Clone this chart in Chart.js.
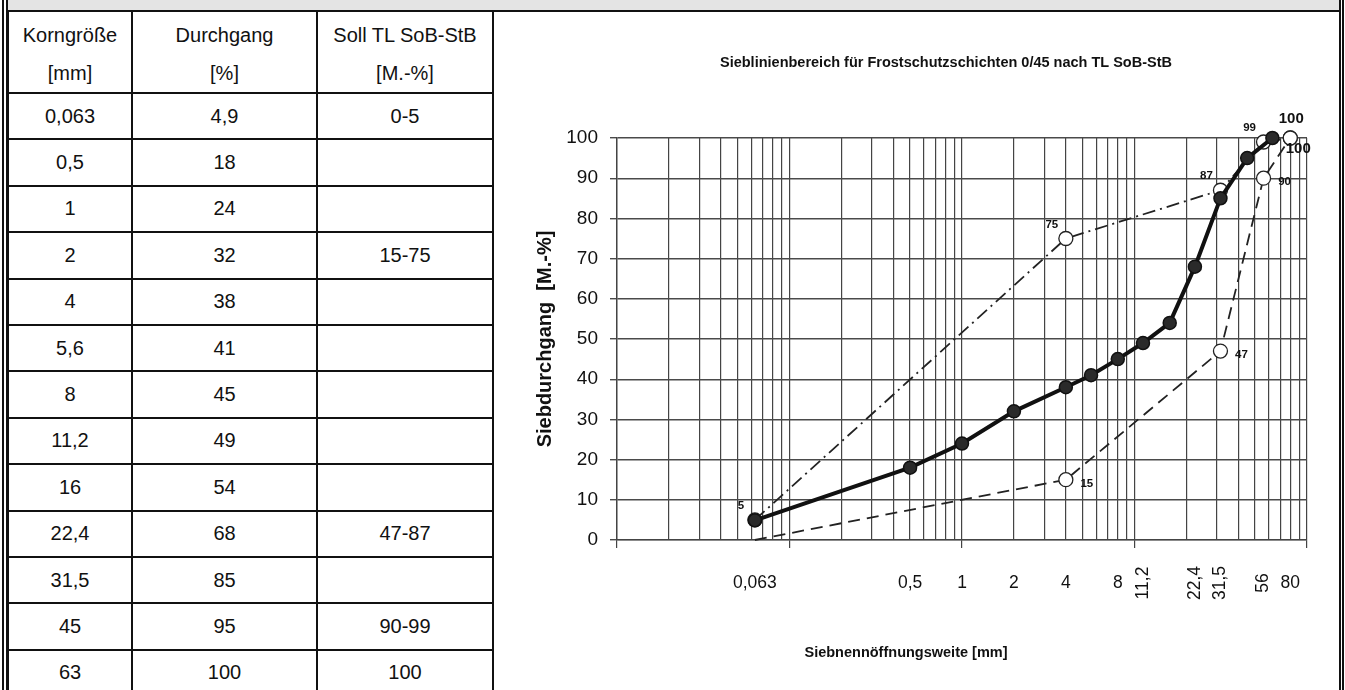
<!DOCTYPE html>
<html lang="de">
<head>
<meta charset="utf-8">
<title>Sieblinie Frostschutzschicht 0/45</title>
<script src="https://cdn.jsdelivr.net/npm/chart.js@4.4.1/dist/chart.umd.min.js"></script>
<style>
  html, body { margin: 0; padding: 0; background: #fff; }
  body { width: 1345px; height: 690px; position: relative; overflow: hidden; font-family: Arial, "Liberation Sans", sans-serif; }
  .topbar { position: absolute; left: 7px; top: 0; width: 1333px; height: 10px; background: #e4e4e4; border-bottom: 2px solid #111; }
  .vline { position: absolute; top: 0; height: 690px; width: 2px; background: #111; }
  table { position: absolute; left: 7px; top: 10px; width: 485px; border-collapse: collapse; table-layout: fixed; color: #111; font-size: 20px; }
  td { border: 2px solid #111; text-align: center; padding: 0; }
  tr.head td { height: 71px; vertical-align: top; padding-top: 4px; line-height: 38px; }
  tr.row td { height: 44.4px; vertical-align: middle; }
  #chart { position: absolute; left: 494px; top: 12px; }
</style>
</head>
<body>
<div class="topbar"></div>
<div class="vline" style="left:2px"></div>
<div class="vline" style="left:6px"></div>
<div class="vline" style="left:1339px"></div>
<div class="vline" style="left:1342px"></div>

<table id="tbl">
  <colgroup><col style="width:124px"><col style="width:185px"><col style="width:176px"></colgroup>
  <tbody id="tbody">
    <tr class="head"><td>Korngröße<br>[mm]</td><td>Durchgang<br>[%]</td><td>Soll TL SoB-StB<br>[M.-%]</td></tr>
  </tbody>
</table>

<canvas id="chart" width="844" height="678"></canvas>

<script>
// Sieblinie (Durchgang je Korngröße)
const sieveSizes = [0.063, 0.5, 1, 2, 4, 5.6, 8, 11.2, 16, 22.4, 31.5, 45, 63];
const passing = [4.9, 18, 24, 32, 38, 41, 45, 49, 54, 68, 85, 95, 100];
const specText = ['0-5', '', '', '15-75', '', '', '', '', '', '47-87', '', '90-99', '100'];

// Sieblinienbereich TL SoB-StB
const limitSizes = [0.063, 4, 31.5, 56, 80];
const upperLimit = [5, 75, 87, 99, 100];
const lowerLimit = [0, 15, 47, 90, 100];

// Beschriftung der x-Achse
const xTickValues = [0.063, 0.5, 1, 2, 4, 8, 11.2, 22.4, 31.5, 56, 80];
const xTickLabels = ['0,063', '0,5', '1', '2', '4', '8', '11,2', '22,4', '31,5', '56', '80'];

const chartTitle = 'Sieblinienbereich für Frostschutzschichten 0/45 nach TL SoB-StB';
const xTitle = 'Siebnennöffnungsweite [mm]';
const yTitle = 'Siebdurchgang  [M.-%]';

const fontFamily = 'Arial, "Liberation Sans", sans-serif';
const comma = v => String(v).replace('.', ',');

// table
const tbody = document.getElementById('tbody');
sieveSizes.forEach((s, i) => {
    const tr = document.createElement('tr');
    tr.className = 'row';
    [comma(s), comma(passing[i]), specText[i]].forEach(t => {
        const td = document.createElement('td');
        td.textContent = t;
        tr.appendChild(td);
    });
    tbody.appendChild(tr);
});

// log paper lines: 1..9 per decade
const gridValues = [];
for (let e = -2; e <= 1; e++) {
    for (let m = 1; m <= 9; m++) {
        gridValues.push(Number((m * Math.pow(10, e)).toPrecision(3)));
    }
}
gridValues.push(100);
const isDecade = v => v > 0 && Math.abs(Math.log10(v) - Math.round(Math.log10(v))) < 1e-9;

const verticalLabels = ['11,2', '22,4', '31,5', '56'];

const textPlugin = {
    id: 'sieveTexts',
    afterDraw(chart) {
        const { ctx, chartArea } = chart;
        const x = chart.scales.x;
        ctx.save();
        ctx.fillStyle = '#111';
        ctx.textAlign = 'center';
        ctx.textBaseline = 'middle';

        ctx.font = 'bold 14.5px ' + fontFamily;
        ctx.fillText(chartTitle, 452, 51);
        ctx.fillText(xTitle, 412, 641);

        ctx.font = '17.5px ' + fontFamily;
        xTickValues.forEach((v, i) => {
            const label = xTickLabels[i];
            ctx.save();
            ctx.translate(x.getPixelForValue(v), chartArea.bottom + 43);
            if (verticalLabels.includes(label)) ctx.rotate(-Math.PI / 2);
            ctx.fillText(label, 0, 0);
            ctx.restore();
        });

        // point values of the limit lines
        [1, 2].forEach(di => {
            const meta = chart.getDatasetMeta(di);
            const ds = chart.data.datasets[di];
            meta.data.forEach((pt, j) => {
                const val = ds.data[j].y;
                if (val === 0) return;
                const big = val === 100;
                ctx.font = (big ? 'bold 15px ' : 'bold 11.5px ') + fontFamily;
                let off;
                if (di === 1) off = big ? [1, -19] : [-14, -14];
                else off = big ? [8, 11] : [21, 4];
                ctx.fillText(String(val), pt.x + off[0], pt.y + off[1]);
            });
        });
        ctx.restore();
    }
};

const data = {
    datasets: [
        {
            label: 'Sieblinie',
            data: sieveSizes.map((s, i) => ({ x: s, y: passing[i] })),
            showLine: true,
            borderColor: '#111',
            borderWidth: 4,
            pointRadius: 6.5,
            pointBackgroundColor: '#2a2a2a',
            pointBorderColor: '#111',
            pointBorderWidth: 1.5,
            tension: 0,
            clip: false,
        },
        {
            label: 'Obergrenze',
            data: limitSizes.map((s, i) => ({ x: s, y: upperLimit[i] })),
            showLine: true,
            borderColor: '#222',
            borderWidth: 1.8,
            borderDash: [13, 5, 2, 5],
            pointRadius: 7,
            pointBackgroundColor: '#fff',
            pointBorderColor: '#222',
            pointBorderWidth: 1.3,
            tension: 0,
            clip: false,
        },
        {
            label: 'Untergrenze',
            data: limitSizes.map((s, i) => ({ x: s, y: lowerLimit[i] })),
            showLine: true,
            borderColor: '#222',
            borderWidth: 1.8,
            borderDash: [12, 7],
            pointRadius: ctx => (ctx.dataIndex === 0 ? 0 : 7),
            pointBackgroundColor: '#fff',
            pointBorderColor: '#222',
            pointBorderWidth: 1.3,
            tension: 0,
            clip: false,
        }
    ]
};

const config = {
    type: 'scatter',
    data: data,
    options: {
        responsive: false,
        animation: false,
        layout: { padding: { top: 126, right: 31, left: 0, bottom: 0 } },
        plugins: {
            legend: { display: false },
            tooltip: { enabled: false },
        },
        scales: {
            x: {
                type: 'logarithmic',
                min: 0.01,
                max: 100,
                afterBuildTicks: s => { s.ticks = gridValues.map(v => ({ value: v })); },
                ticks: { display: false },
                grid: {
                    color: '#444',
                    lineWidth: 1.2,
                    tickLength: 8,
                    tickColor: c => (c.tick && isDecade(c.tick.value) ? '#444' : 'rgba(0,0,0,0)'),
                },
                border: { color: '#444', width: 1.2 },
                afterFit: s => { s.height = 150; },
            },
            y: {
                min: 0,
                max: 100,
                ticks: { stepSize: 10, color: '#111', font: { size: 19, family: fontFamily }, padding: 12 },
                grid: { color: '#4a4a4a', lineWidth: 1.4, tickLength: 7, tickColor: '#4a4a4a' },
                border: { color: '#444', width: 1.4 },
                title: {
                    display: true,
                    text: yTitle,
                    color: '#111',
                    font: { size: 20, weight: 'bold', family: fontFamily },
                    padding: { top: 39, bottom: 0 },
                },
                afterFit: s => { s.width = 123; },
            },
        },
    },
    plugins: [textPlugin],
};

const chart = new Chart(document.getElementById('chart'), config);
</script>
</body>
</html>
